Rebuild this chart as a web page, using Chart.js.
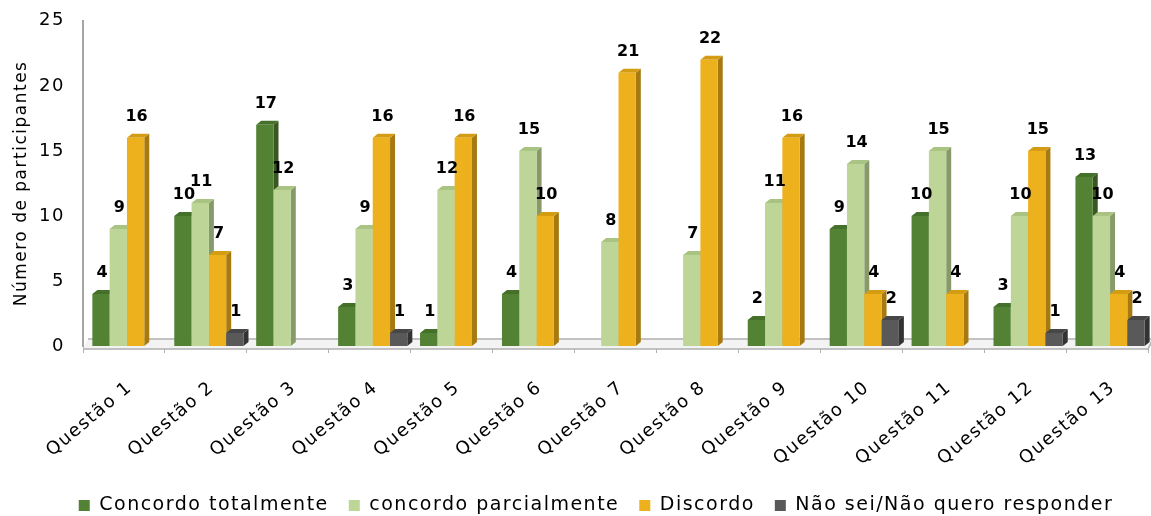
<!DOCTYPE html>
<html><head><meta charset="utf-8">
<script src="https://cdn.jsdelivr.net/npm/chart.js@4.4.1/dist/chart.umd.min.js"></script>
<style>html,body{margin:0;padding:0;background:#fff;}canvas{display:block;}</style>
</head><body>
<canvas id="c" width="1151" height="516"></canvas>
<script>
const categories = ["Questão 1","Questão 2","Questão 3","Questão 4","Questão 5","Questão 6","Questão 7","Questão 8","Questão 9","Questão 10","Questão 11","Questão 12","Questão 13"];
const seriesNames = ["Concordo totalmente","concordo parcialmente","Discordo","Não sei/Não quero responder"];
const concordoTotalmente   = [4,10,17,3,1,4,0,0,2,9,10,3,13];
const concordoParcialmente = [9,11,12,9,12,15,8,7,11,14,15,10,10];
const discordo             = [16,7,0,16,16,10,21,22,16,4,4,15,4];
const naoSei               = [0,1,0,1,0,0,0,0,0,2,0,1,2];
const yTicks = [0,5,10,15,20,25];

const fronts = ["#548235","#BDD597","#EDB11E","#595959"];
const sides  = ["#385723","#879B6A","#A67A10","#333333"];
const tops   = ["#44702A","#A9C382","#D49C12","#474747"];
const DX = 5, DY = 4, SH = 3;
const FONT = "'DejaVu Sans', sans-serif";
const SPACING = '1.5px';
const LEGEND_SHIFT_Y = 9, LEGEND_SHIFT_X = 20;

const spacing = {
  id: 'spacing',
  beforeLayout(chart) { chart.ctx.letterSpacing = SPACING; },
  afterLayout(chart) {
    const lg = chart.legend;
    if (lg) {
      lg.top += LEGEND_SHIFT_Y; lg.bottom += LEGEND_SHIFT_Y;
      lg.left += LEGEND_SHIFT_X; lg.right += LEGEND_SHIFT_X;
    }
  },
  beforeDraw(chart) { chart.ctx.letterSpacing = SPACING; }
};

const bars3d = {
  id: 'bars3d',
  beforeDatasetsDraw(chart) {
    const ctx = chart.ctx, a = chart.chartArea;
    const ys = chart.scales.y;
    const base = ys.getPixelForValue(0);
    ctx.save();
    // floor
    ctx.fillStyle = '#f3f3f3';
    ctx.beginPath();
    ctx.moveTo(a.left, base + 3);
    ctx.lineTo(a.right, base + 3);
    ctx.lineTo(a.right + DX, base - 7);
    ctx.lineTo(a.left + DX, base - 7);
    ctx.closePath();
    ctx.fill();
    ctx.strokeStyle = '#b0b0b0';
    ctx.lineWidth = 1.5;
    ctx.beginPath();
    ctx.moveTo(a.left, base + 3);
    ctx.lineTo(a.right, base + 3);
    ctx.lineTo(a.right + DX, base - 7);
    ctx.lineTo(a.left + DX, base - 7);
    ctx.stroke();
    // bars
    const n = chart.data.labels.length;
    for (let i = 0; i < n; i++) {
      chart.data.datasets.forEach((ds, d) => {
        const el = chart.getDatasetMeta(d).data[i];
        const v = ds.data[i];
        if (!v) return;
        const l = el.x - el.width / 2 + SH, r = el.x + el.width / 2 + SH;
        const t = el.y, b = el.base;
        ctx.fillStyle = sides[d];
        ctx.beginPath();
        ctx.moveTo(r, t); ctx.lineTo(r + DX, t - DY); ctx.lineTo(r + DX, b - DY); ctx.lineTo(r, b);
        ctx.closePath(); ctx.fill();
        ctx.fillStyle = tops[d];
        ctx.beginPath();
        ctx.moveTo(l, t); ctx.lineTo(l + DX, t - DY); ctx.lineTo(r + DX, t - DY); ctx.lineTo(r, t);
        ctx.closePath(); ctx.fill();
        ctx.fillStyle = fronts[d];
        ctx.fillRect(l, t, r - l, b - t);
      });
    }
    // value labels
    ctx.letterSpacing = '0px';
    ctx.fillStyle = '#000';
    ctx.font = "bold 16px " + FONT;
    ctx.textAlign = 'center';
    ctx.textBaseline = 'bottom';
    chart.data.datasets.forEach((ds, d) => {
      chart.getDatasetMeta(d).data.forEach((el, i) => {
        const v = ds.data[i];
        if (!v) return;
        ctx.fillText(String(v), el.x + SH + 1, el.y - 13);
      });
    });
    ctx.restore();
    return false;
  }
};

const mk = (label, data, k) => ({label, data, backgroundColor: fronts[k], borderWidth: 0});

new Chart(document.getElementById('c'), {
  type: 'bar',
  data: {
    labels: categories,
    datasets: [
      mk(seriesNames[0], concordoTotalmente, 0),
      mk(seriesNames[1], concordoParcialmente, 1),
      mk(seriesNames[2], discordo, 2),
      mk(seriesNames[3], naoSei, 3)
    ]
  },
  options: {
    responsive: false,
    animation: false,
    events: [],
    layout: {padding: {top: 16, right: 3, left: 4, bottom: 0}},
    datasets: {bar: {categoryPercentage: 0.845, barPercentage: 1.0}},
    plugins: {
      legend: {
        position: 'bottom',
        labels: {
          boxWidth: 11, boxHeight: 11, padding: 20,
          color: '#000',
          font: {family: FONT, size: 19}
        }
      },
      tooltip: {enabled: false}
    },
    scales: {
      x: {
        afterFit(s) { s.height = 121; },
        grid: {display: true, drawOnChartArea: false, drawTicks: true, tickLength: 7, color: '#b0b0b0', offset: true},
        border: {display: false},
        ticks: {minRotation: 40, maxRotation: 40, color: '#000', font: {family: FONT, size: 18}, padding: 24, labelOffset: 6}
      },
      y: {
        min: 0, max: 25,
        afterFit(s) { s.width = 79; },
        afterBuildTicks(s) { s.ticks = yTicks.map(v => ({value: v})); },
        grid: {display: false},
        border: {display: true, color: '#a6a6a6', width: 2},
        ticks: {color: '#000', font: {family: FONT, size: 18}, padding: 10},
        title: {display: true, text: 'Número de participantes', color: '#000', font: {family: FONT, size: 17}, padding: {top: 7, bottom: 0}}
      }
    }
  },
  plugins: [spacing, bars3d]
});
</script>
</body></html>
